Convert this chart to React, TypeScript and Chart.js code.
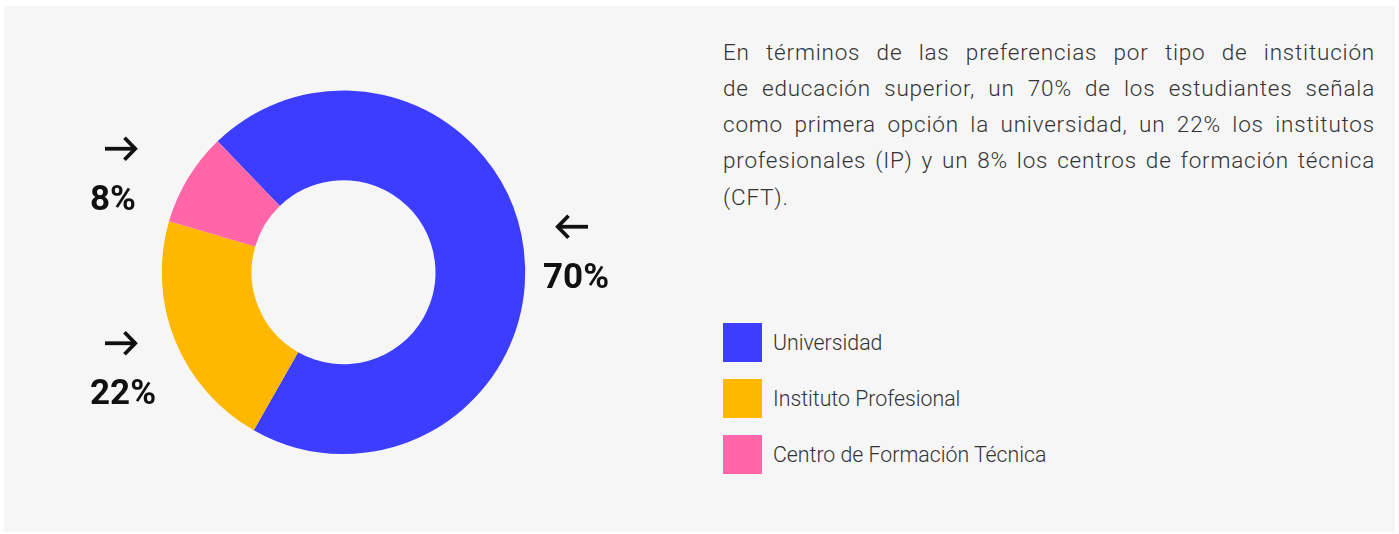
import React, { useEffect, useRef } from "react";
import { Chart, registerables } from "chart.js";

Chart.register(...registerables);

const categories = ["Universidad", "Instituto Profesional", "Centro de Formación Técnica"];
const values = [70.4, 21.3, 8.3];
const colors = ["#3d3dff", "#ffb700", "#ff66a8"];
const valueLabels = ["70%", "22%", "8%"];
const descriptionLines = [
  "En términos de las preferencias por tipo de institución",
  "de educación superior, un 70% de los estudiantes señala",
  "como primera opción la universidad, un 22% los institutos",
  "profesionales (IP) y un 8% los centros de formación técnica",
  "(CFT).",
];

// label placement relative to donut center: arrow center (ax, ay), text left tx, arrow direction
const labelPlacement: Array<{ ax: number; ay: number; tx: number; dir: number }> = [
  { ax: 229, ay: -45.5, tx: 199.5, dir: -1 },
  { ax: -223, ay: 71, tx: -253.5, dir: 1 },
  { ax: -223, ay: -123.5, tx: -253.5, dir: 1 },
];

const annotationPlugin = {
  id: "pctAnnotations",
  afterDraw(chart: any) {
    const meta = chart.getDatasetMeta(0);
    const arc = meta.data[0];
    if (!arc) return;
    const cx = arc.x;
    const cy = arc.y;
    const ctx = chart.ctx;
    ctx.save();
    valueLabels.forEach((txt, i) => {
      const p = labelPlacement[i];
      const x = cx + p.ax;
      const y = cy + p.ay;
      const half = 15.5;
      ctx.strokeStyle = "#111";
      ctx.lineWidth = 3.8;
      ctx.lineCap = "butt";
      ctx.lineJoin = "miter";
      ctx.beginPath();
      ctx.moveTo(x - half, y);
      ctx.lineTo(x + half, y);
      ctx.stroke();
      const tip = x + p.dir * half;
      ctx.beginPath();
      ctx.moveTo(tip - p.dir * 11.5, y - 11);
      ctx.lineTo(tip - p.dir * 0.8, y);
      ctx.lineTo(tip - p.dir * 11.5, y + 11);
      ctx.stroke();
      ctx.fillStyle = "#111";
      ctx.font = "bold 35px Roboto";
      ctx.textAlign = "left";
      ctx.textBaseline = "alphabetic";
      ctx.fillText(txt, cx + p.tx, y + 61);
    });
    ctx.restore();
  },
};

export default function App() {
  const ref = useRef<HTMLCanvasElement>(null);
  useEffect(() => {
    if (!ref.current) return;
    const chart = new Chart(ref.current, {
      type: "doughnut",
      data: {
        labels: categories,
        datasets: [
          {
            data: values,
            backgroundColor: colors,
            borderWidth: 0,
          },
        ],
      },
      options: {
        animation: false,
        responsive: false,
        rotation: -43.85,
        cutout: "50.6%",
        layout: { padding: { top: 84.5, bottom: 78, left: 0, right: 0 } },
        plugins: {
          legend: { display: false },
          tooltip: { enabled: false },
        },
      },
      plugins: [annotationPlugin],
    });
    return () => chart.destroy();
  }, []);

  return (
    <div
      style={{
        position: "absolute",
        left: 4,
        top: 6,
        width: 1391,
        height: 526,
        background: "#f6f6f6",
        fontFamily: "Roboto, sans-serif",
      }}
    >
      <canvas
        ref={ref}
        width={679}
        height={526}
        style={{ position: "absolute", left: 0, top: 0, width: 679, height: 526 }}
      />
      <div
        style={{
          position: "absolute",
          left: 719,
          top: 27.6,
          width: 652,
          fontSize: 22.5,
          fontWeight: 300,
          letterSpacing: "0.8px",
          lineHeight: "36.3px",
          color: "#333",
        }}
      >
        {descriptionLines.map((line, i) => (
          <div
            key={i}
            style={{
              textAlign: i < descriptionLines.length - 1 ? "justify" : "left",
              textAlignLast: i < descriptionLines.length - 1 ? "justify" : "left",
              whiteSpace: "normal",
            }}
          >
            {line}
          </div>
        ))}
      </div>
      {categories.map((c, i) => (
        <div
          key={c}
          style={{
            position: "absolute",
            left: 719,
            top: 317 + i * 56,
            height: 39,
            display: "flex",
            alignItems: "center",
          }}
        >
          <div style={{ width: 39, height: 39, background: colors[i] }} />
          <span
            style={{
              marginLeft: 11,
              fontSize: 21.3,
              fontWeight: 300,
              color: "#333",
            }}
          >
            {c}
          </span>
        </div>
      ))}
    </div>
  );
}
